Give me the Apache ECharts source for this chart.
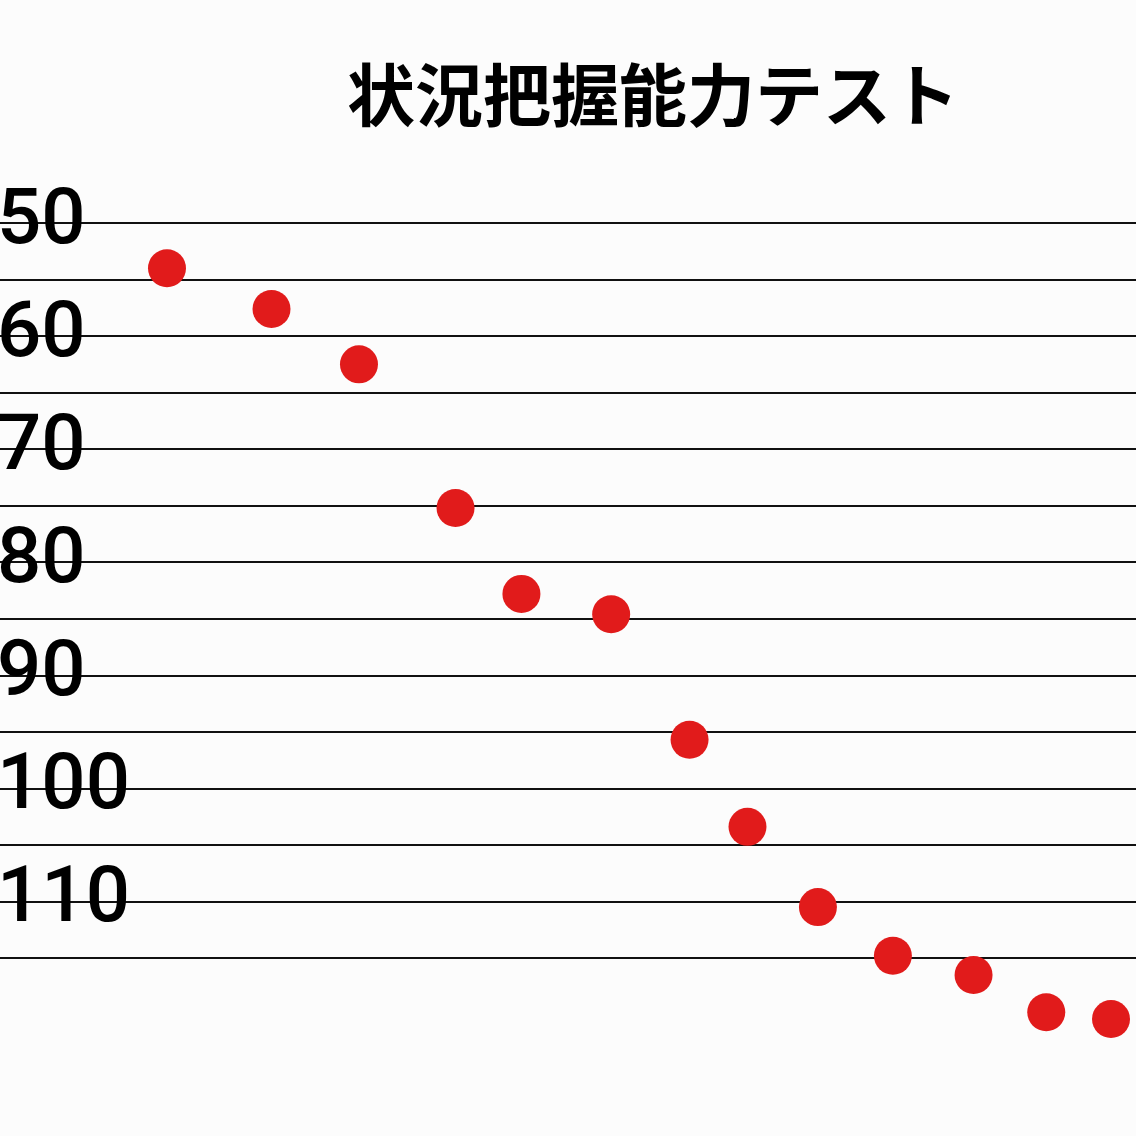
<!DOCTYPE html>
<html>
<head>
<meta charset="utf-8">
<script src="https://cdn.jsdelivr.net/npm/echarts@6/dist/echarts.min.js"></script>
<style>
html,body{margin:0;padding:0;background:#fcfcfc;}
#chart{width:1136px;height:1136px;}
</style>
</head>
<body>
<div id="chart"></div>
<script>
const titleText = '状況把握能力テスト';
const xPositions = [14.7, 23.9, 31.6, 40.1, 45.9, 53.8, 60.7, 65.8, 72.0, 78.6, 85.7, 92.1, 97.8];
const scores = [54.0, 57.6, 62.5, 75.2, 82.8, 84.6, 95.7, 103.4, 110.5, 114.8, 116.5, 119.8, 120.4];
const yMin = 50, yMax = 115, yStep = 5;

const points = xPositions.map((x, i) => [x, scores[i]]);

const chart = echarts.init(document.getElementById('chart'));
chart.setOption({
  backgroundColor: '#fcfcfc',
  animation: false,
  title: {
    text: titleText,
    left: 347,
    top: 61,
    padding: 0,
    textStyle: {
      fontFamily: 'Noto Sans CJK JP',
      fontSize: 68,
      fontWeight: 'bold',
      color: '#000'
    }
  },
  grid: { left: 0, right: 0, top: 223, bottom: 178, outerBoundsMode: 'none', containLabel: false },
  xAxis: {
    type: 'value', min: 0, max: 100, show: false
  },
  yAxis: {
    type: 'value', inverse: true, min: yMin, max: yMax, interval: yStep,
    axisLine: { show: false },
    axisTick: { show: false },
    splitLine: { show: true, lineStyle: { color: '#111', width: 2 } },
    axisLabel: {
      inside: true,
      margin: -3,
      fontFamily: 'Roboto',
      fontSize: 78,
      fontWeight: 500,
      color: '#000',
      padding: [6, 0, 0, 0],
      formatter: v => (v % 10 === 0 ? String(v) : '')
    },
    z: 3
  },
  series: [{
    type: 'scatter',
    data: points,
    symbolSize: 38,
    clip: false,
    itemStyle: { color: '#e11b1b', opacity: 1 },
    z: 4
  }]
});
</script>
</body>
</html>
